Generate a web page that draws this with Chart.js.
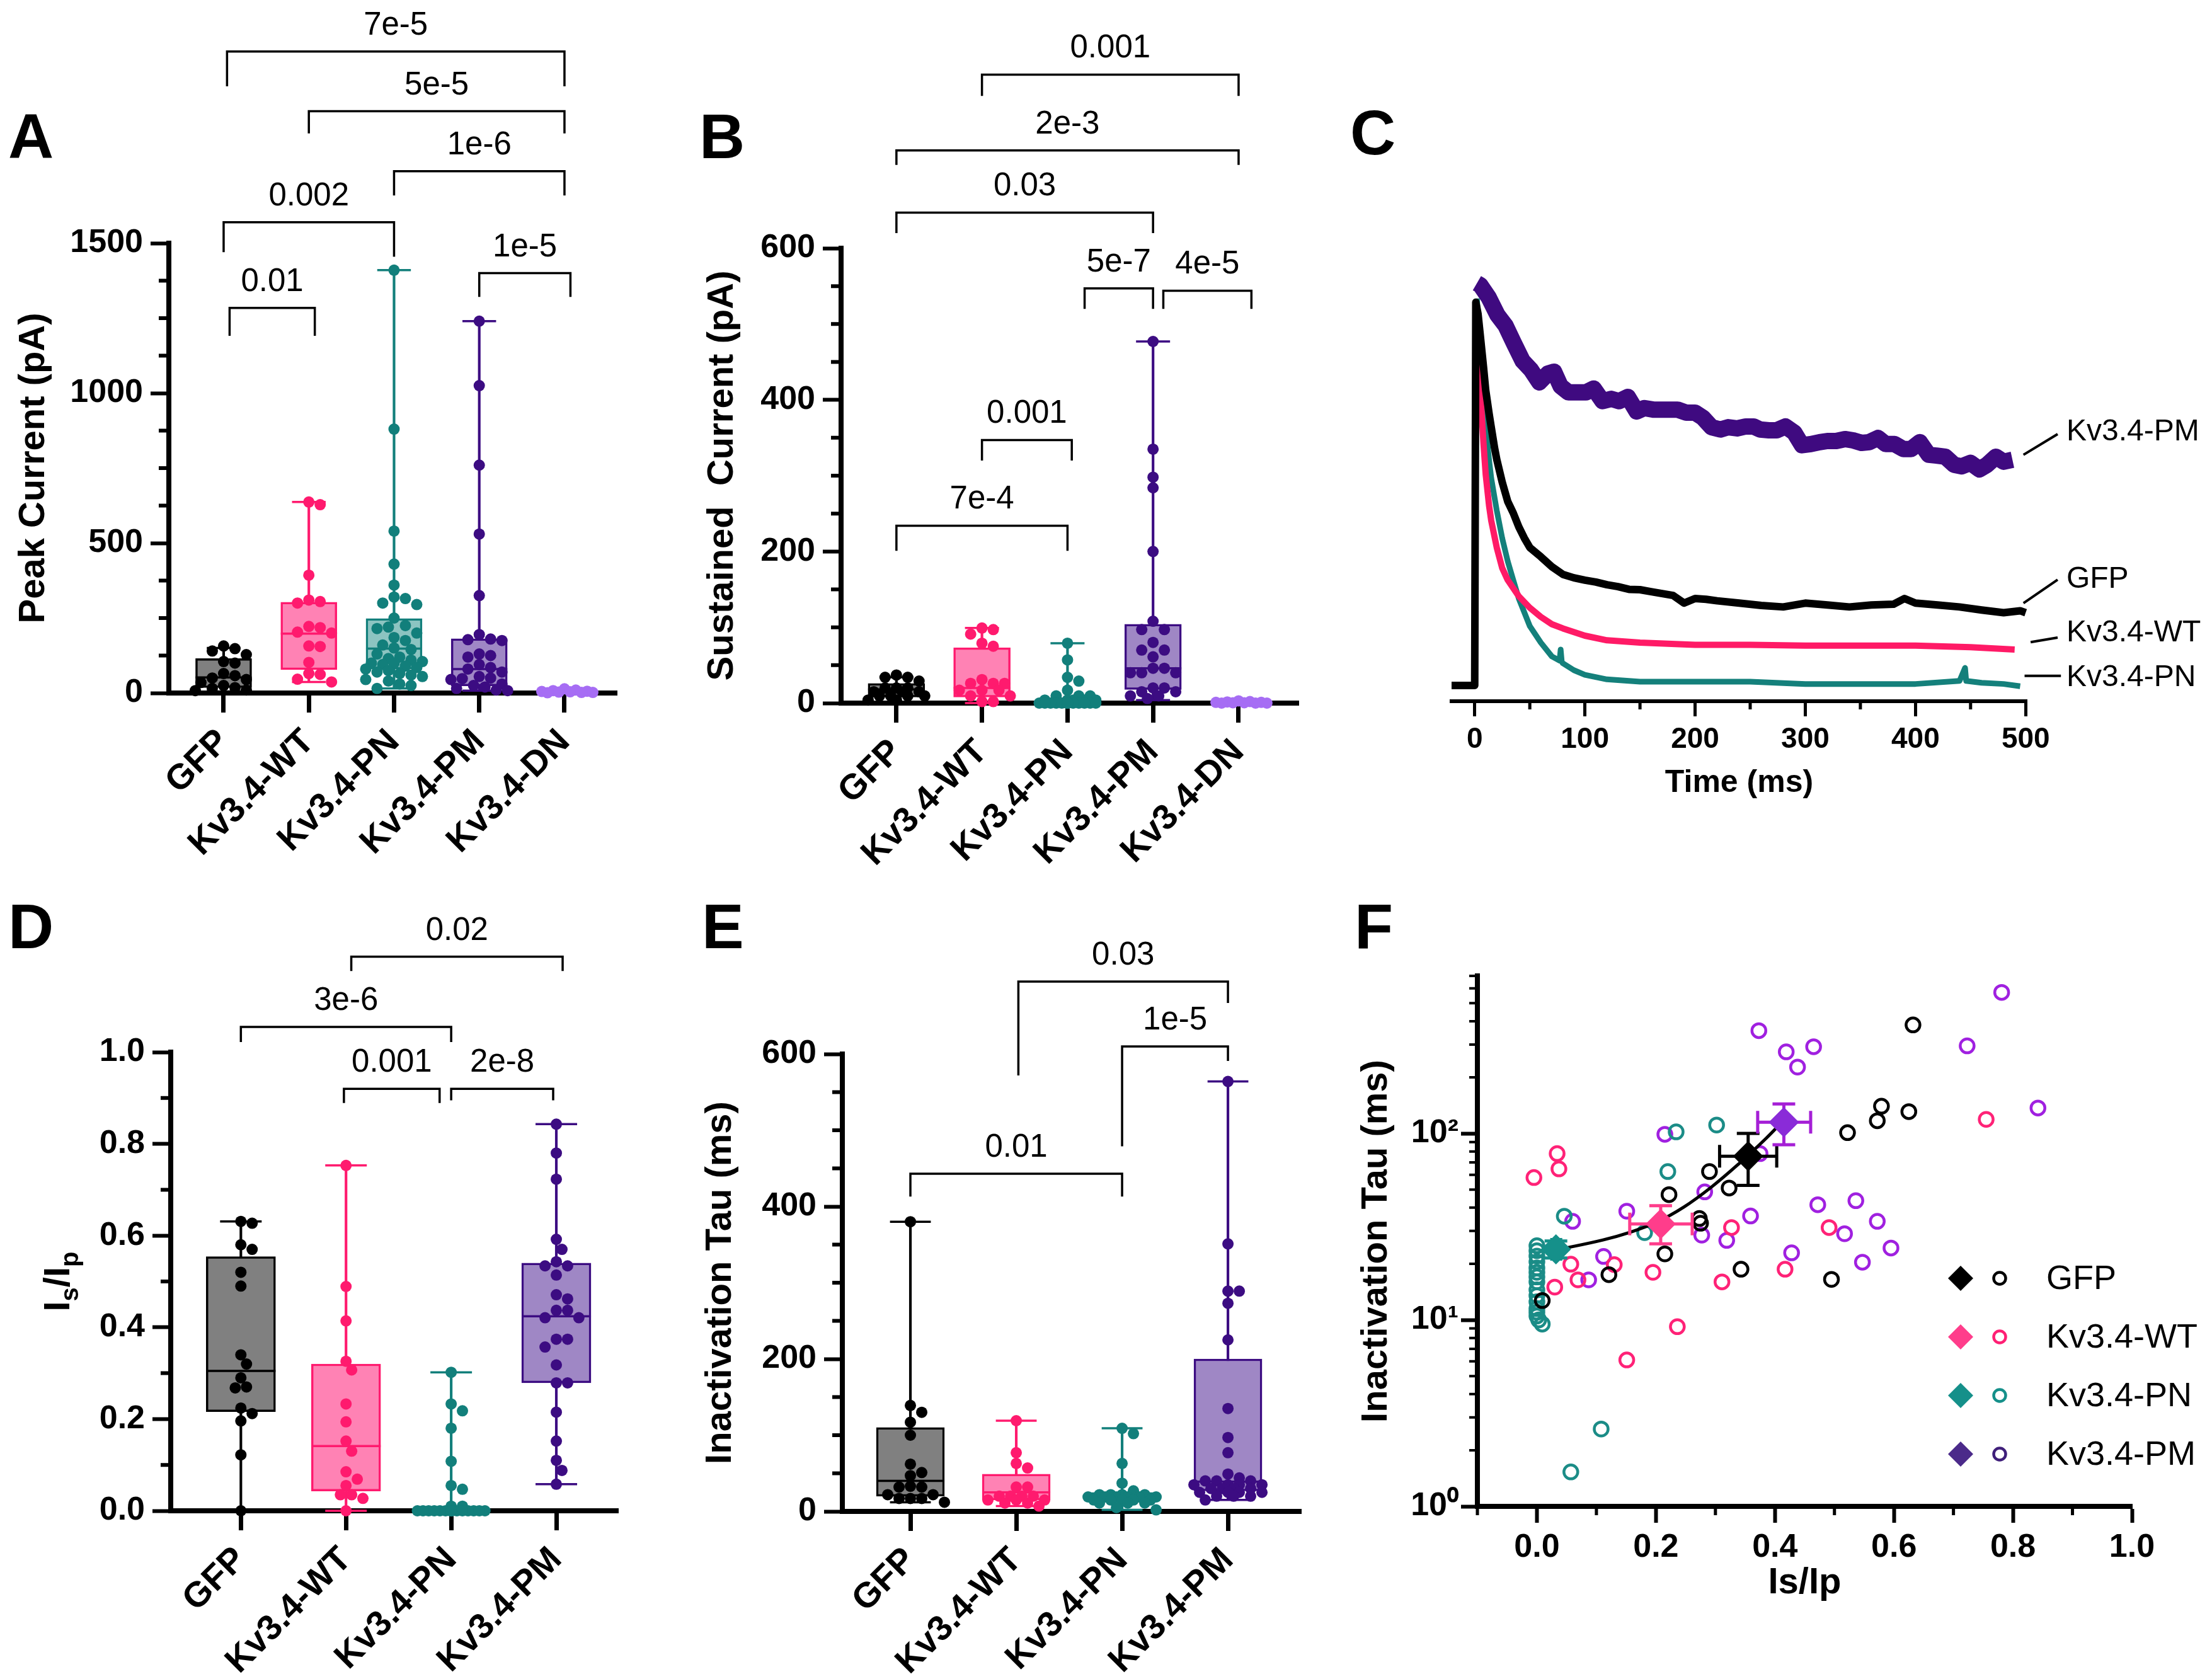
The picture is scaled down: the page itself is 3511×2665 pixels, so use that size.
<!DOCTYPE html>
<html>
<head>
<meta charset="utf-8">
<script src="https://cdn.jsdelivr.net/npm/chart.js@4.4.1/dist/chart.umd.min.js"></script>
<style>
  body { margin:0; background:#fff; width:3511px; height:2665px; position:relative; overflow:hidden; }
  canvas { position:absolute; }
  .tag { position:absolute; font:bold 100px 'Liberation Sans', Arial, sans-serif; line-height:100px; color:#000; }
</style>
</head>
<body>
<div class="tag" style="left:13px;top:166px">A</div>
<div class="tag" style="left:1110px;top:166px">B</div>
<div class="tag" style="left:2143px;top:160px">C</div>
<div class="tag" style="left:13px;top:1420px">D</div>
<div class="tag" style="left:1114px;top:1420px">E</div>
<div class="tag" style="left:2150px;top:1420px">F</div>
<canvas id="cA" width="1040" height="1380" style="left:0;top:0"></canvas>
<canvas id="cB" width="1100" height="1380" style="left:1040px;top:0"></canvas>
<canvas id="cC" width="1371" height="1230" style="left:2140px;top:150px"></canvas>
<canvas id="cD" width="1040" height="1265" style="left:0;top:1400px"></canvas>
<canvas id="cE" width="1100" height="1265" style="left:1040px;top:1400px"></canvas>
<canvas id="cF" width="1371" height="1265" style="left:2140px;top:1400px"></canvas>
<script>
const FONT = "'Liberation Sans', Arial, sans-serif";
Chart.defaults.font.family = FONT;
Chart.defaults.color = '#000';

const groups = ['GFP', 'Kv3.4-WT', 'Kv3.4-PN', 'Kv3.4-PM', 'Kv3.4-DN'];
const dotCol = ['#000000', '#ff1a6e', '#127f7b', '#3c0c82', '#a66df4'];
const boxFill = ['#808080', '#ff82b4', '#8cc4c1', '#9f87c5'];

// A - peak current (pA), one array per group
const peakPts = [
  [157,148,140,128,105,100,65,58,50,45,35,25,18,15,10,8],
  [637,628,393,310,305,300,222,218,203,200,157,155,102,65,62,46,37],
  [1410,880,540,430,360,320,315,300,295,250,225,220,215,200,185,175,160,150,145,130,120,115,110,105,100,100,95,90,85,80,75,70,65,60,55,45,40,30,25,15],
  [1240,1025,760,530,325,195,180,178,175,130,125,120,95,85,80,70,55,50,48,45,30,25,20,15,10,8],
  [14,10,8,6,5,4,3,2,2,1]
];
// [min, q1, median, q3, max]
const peakBox = [[5,18,52,115,150],[37,78,198,303,637],[15,80,148,248,1410],[8,24,80,181,1240],null];
const peakLabels = [0, 500, 1000, 1500];
const peakSig = [
  {a:0.04, b:4, y:2139, la:2023, lb:2023, t:'7e-5'},
  {a:1, b:4, y:1940, la:1866, lb:1866, t:'5e-5'},
  {a:2, b:4, y:1740, la:1659, lb:1659, t:'1e-6'},
  {a:0, b:2, y:1570, la:1470, lb:1455, t:'0.002'},
  {a:0.07, b:1.07, y:1284, la:1191, lb:1191, t:'0.01'},
  {a:3, b:4.07, y:1400, la:1321, lb:1321, t:'1e-5'}
];

// B - sustained current (pA)
const sustPts = [
  [34,34,37,29,20,20,20,15,15,15,9.5,9.5,9.5,9.5,4,4],
  [99,97,91,79,75,31,26,26,26,17,17,17,9.5,9.5,2,2],
  [79,57,34,29,17,9.5,9.5,9.5,4,4,4,4,4,0,0,0,0,0,0,0,0,0,0,0,0,0,0,0,0,0],
  [477,335,298,284,200,108,97,97,80,70,70,61,46,46,40,40,40,20,20,15,15,9.5,9.5,6],
  [3,2,1.5,1,1,0.5,0.5,0,0,0]
];
const sustBox = [[0,8,18,26,34],[0,8,20,73,99],[0,0,0,2,79],[4,18,46,104,477],null];
const sustLabels = [0, 200, 400, 600];
const sustSig = [
  {a:1, b:4, y:829, la:801, lb:801, t:'0.001'},
  {a:0, b:4, y:729, la:710, lb:710, t:'2e-3'},
  {a:0, b:3, y:647, la:620, lb:620, t:'0.03'},
  {a:2.2, b:3, y:547, la:520, lb:520, t:'5e-7'},
  {a:3.12, b:4.15, y:544, la:520, lb:520, t:'4e-5'},
  {a:1, b:2.05, y:347, la:320, lb:320, t:'0.001'},
  {a:0, b:2, y:234, la:201, lb:201, t:'7e-4'}
];

// D - Is/Ip
const ratioPts = [
  [0.631,0.627,0.58,0.57,0.52,0.49,0.34,0.32,0.29,0.27,0.268,0.224,0.212,0.196,0.122,0],
  [0.753,0.489,0.414,0.326,0.307,0.233,0.194,0.152,0.13,0.085,0.069,0.055,0.035,0.035,0.027,0],
  [0.302,0.233,0.218,0.18,0.108,0.055,0.047,0.01,0.01,0,0,0,0,0,0,0,0,0,0,0,0,0,0,0,0,0,0,0,0],
  [0.843,0.78,0.723,0.592,0.57,0.543,0.534,0.534,0.514,0.471,0.462,0.437,0.437,0.421,0.421,0.374,0.374,0.357,0.318,0.279,0.279,0.215,0.152,0.11,0.088,0.058]
];
const ratioBox = [[0,0.216,0.305,0.554,0.631],[0,0.043,0.141,0.32,0.753],[0,0,0,0,0.302],[0.058,0.279,0.424,0.54,0.843]];
const ratioLabels = [0, 0.2, 0.4, 0.6, 0.8, 1.0];
const ratioSig = [
  {a:1.05, b:3.06, y:1.208, la:1.177, lb:1.177, t:'0.02'},
  {a:0, b:2, y:1.055, la:1.022, lb:1.022, t:'3e-6'},
  {a:0.98, b:1.89, y:0.92, la:0.889, lb:0.889, t:'0.001'},
  {a:2, b:2.97, y:0.92, la:0.895, lb:0.895, t:'2e-8'}
];

// E - inactivation tau (ms)
const tauPts = [
  [380,139,130,117,100,62,51,47,33,32,32,22,22,17,17,17,12],
  [119,77,63,57,32,32,20,20,20,20,15,15,15,11,11,7],
  [109,102,63,37,27,22,22,22,22,19,19,19,19,19,19,15,15,15,15,15,11,11,11,5,2],
  [564,351,289,289,273,225,135,97,77,49,44,40,40,40,35,35,35,35,30,30,30,30,25,25,25,25,20,20,20,15]
];
const tauBox = [[12,20,40,110,380],[7,15,25,49,119],[2,13,18,25,109],[15,27,39,200,564]];
const tauLabels = [0, 200, 400, 600];
const tauSig = [
  {a:1.02, b:3, y:695, la:572, lb:667, t:'0.03'},
  {a:2, b:3, y:610, la:479, lb:591, t:'1e-5'},
  {a:0, b:2, y:443, la:413, lb:413, t:'0.01'}
];

// C - normalised current traces, [time ms, I/Ipeak]
const traceGFP = [[-21,0],[0,0],[1,1.0],[3,0.97],[5,0.915],[8,0.83],[10,0.77],[13,0.71],[15,0.674],[18,0.62],[20,0.59],[25,0.53],[30,0.48],[35,0.45],[40,0.414],[45,0.385],[50,0.36],[60,0.336],[70,0.31],[80,0.29],[90,0.281],[100,0.275],[110,0.27],[120,0.263],[130,0.258],[140,0.251],[150,0.25],[160,0.245],[170,0.24],[180,0.235],[190,0.215],[200,0.227],[210,0.225],[220,0.221],[240,0.215],[260,0.209],[280,0.205],[300,0.215],[320,0.21],[340,0.205],[360,0.21],[380,0.212],[390,0.227],[400,0.215],[420,0.21],[440,0.205],[460,0.197],[480,0.19],[495,0.195],[500,0.19]];
const traceWT = [[1,0.976],[3,0.88],[5,0.77],[8,0.63],[10,0.55],[13,0.47],[15,0.43],[20,0.36],[25,0.306],[30,0.275],[40,0.233],[50,0.203],[60,0.179],[70,0.16],[80,0.149],[100,0.13],[120,0.118],[150,0.112],[200,0.106],[250,0.106],[300,0.104],[350,0.104],[400,0.104],[450,0.1],[490,0.094]];
const tracePN = [[2,1.01],[5,0.867],[8,0.74],[10,0.674],[13,0.59],[15,0.541],[20,0.457],[25,0.384],[30,0.324],[35,0.275],[40,0.227],[50,0.155],[60,0.112],[70,0.076],[77,0.065],[78,0.094],[79,0.062],[80,0.058],[90,0.04],[100,0.028],[120,0.016],[150,0.01],[200,0.01],[250,0.01],[300,0.004],[350,0.004],[400,0.004],[440,0.012],[445,0.046],[446,0.012],[460,0.007],[480,0.004],[495,-0.002]];
const tracePM = [[2,1.05],[5,1.045],[12.6,1.013],[20.6,0.967],[28,0.939],[35.6,0.893],[43.5,0.847],[51,0.824],[58.6,0.791],[66.4,0.814],[72,0.819],[78,0.781],[85,0.765],[93,0.765],[101,0.765],[108,0.775],[116,0.742],[124,0.748],[131,0.742],[139,0.753],[147,0.715],[154,0.724],[162,0.72],[170,0.72],[177,0.72],[184,0.72],[192,0.712],[200,0.712],[207,0.699],[215,0.674],[223,0.668],[230,0.674],[238,0.671],[246,0.676],[253,0.676],[259,0.668],[267,0.666],[274,0.666],[282,0.676],[290,0.66],[297,0.627],[305,0.63],[313,0.635],[320,0.638],[328,0.638],[336,0.643],[343,0.64],[351,0.633],[358,0.635],[366,0.646],[373,0.63],[381,0.63],[389,0.617],[396,0.617],[404,0.635],[412,0.602],[419,0.6],[427,0.597],[435,0.576],[442,0.572],[450,0.581],[458,0.564],[465,0.576],[473,0.597],[480,0.584],[488,0.589]];
const timeLabels = [0, 100, 200, 300, 400, 500];

// F - tau vs Is/Ip, [Is/Ip, tau ms]
const scGFP = [[0.632,382],[0.579,140],[0.572,117],[0.625,131],[0.522,101],[0.29,62.5],[0.323,51],[0.222,47],[0.273,35],[0.275,33],[0.215,22.6],[0.121,17.5],[0.343,18.7],[0.495,16.5],[0.009,12.7]];
const scWT = [[-0.005,58],[0.034,78],[0.037,64.6],[0.057,19.9],[0.03,15],[0.069,16.4],[0.13,19.8],[0.195,18],[0.151,6.1],[0.236,9.2],[0.327,31.3],[0.311,16],[0.417,18.7],[0.491,31.3],[0.755,119]];
const scPN = [[0,25],[0,23.5],[0,22],[0,20.5],[0,19],[0,18],[0,17],[0,16],[0,14.5],[0,13.5],[0,12.5],[0,11.5],[0,11],[0,10.5],[0.003,10],[0.009,9.5],[0.046,36],[0.181,29.4],[0.22,62.5],[0.234,102],[0.302,111],[0.108,2.6],[0.057,1.53]];
const scPM = [[0.781,571],[0.373,356],[0.419,274],[0.465,292],[0.438,227],[0.723,295],[0.842,137],[0.215,99],[0.375,78],[0.282,48.6],[0.151,38.3],[0.359,36.1],[0.277,28.5],[0.319,26.7],[0.06,33.8],[0.112,21.9],[0.087,16.4],[0.428,22.9],[0.472,41.5],[0.536,43.6],[0.517,29],[0.572,33.8],[0.595,24.3],[0.547,20.4]];
const meanX = [0.355, 0.208, 0.032, 0.415];
const meanY = [75.5, 32.7, 23.9, 115];
const meanXerr = [[0.307,0.403],[0.156,0.261],[0.025,0.04],[0.371,0.46]];
const meanYerr = [[52.7,100],[25.6,41],[21.5,26.5],[87,144]];
const fitX = [0.037,0.110,0.156,0.201,0.247,0.293,0.339,0.385,0.414];
const fitY = [23.9,26.8,29.5,33.4,40.3,51.5,68.6,94,117];
const ratioAxisLabels = [0, 0.2, 0.4, 0.6, 0.8, 1.0];
const tauDecades = [1, 10, 100];

// spread dots sideways so they do not sit on top of each other
function swarm(vals, cx, o) {
  const placed = [], out = [], d = 2 * o.r;
  [...vals].sort((a, b) => b - a).forEach(v => {
    const py = v * o.pxY;
    let best = 0, bestD = -1, done = false;
    for (let k = 0; k * o.r <= o.spread && !done; k++) {
      for (const s of (k ? [1, -1] : [1])) {
        const off = s * k * o.r;
        let m = Infinity;
        placed.forEach(p => { m = Math.min(m, Math.hypot(p[0] - off, p[1] - py)); });
        if (m >= d * 0.9) { best = off; done = true; break; }
        if (m > bestD) { bestD = m; best = off; }
      }
    }
    placed.push([best, py]);
    out.push({x: cx + best / o.pxX, y: v});
  });
  return out;
}

function steps(lo, hi, st) {
  const t = [];
  for (let i = 0; lo + i * st <= hi + 1e-9; i++) t.push(+(lo + i * st).toFixed(6));
  return t;
}

// short unlabelled ticks between the labelled ones
function minorTicks(axis, values, len, width) {
  return {id:'minor' + axis, afterDraw(chart) {
    const s = chart.scales[axis], {ctx, chartArea} = chart;
    ctx.save(); ctx.strokeStyle = '#000'; ctx.lineWidth = width; ctx.beginPath();
    values.forEach(v => {
      const p = s.getPixelForValue(v);
      if (s.isHorizontal()) { ctx.moveTo(p, chartArea.bottom); ctx.lineTo(p, chartArea.bottom + len); }
      else { ctx.moveTo(chartArea.left, p); ctx.lineTo(chartArea.left - len, p); }
    });
    ctx.stroke(); ctx.restore();
  }};
}

function sigPlugin(items) {
  return {id: 'sig', afterDraw(chart) {
    const {ctx, scales: {x, y}} = chart;
    ctx.save();
    ctx.lineWidth = 3.5; ctx.strokeStyle = '#000'; ctx.fillStyle = '#000';
    ctx.font = '51px ' + FONT; ctx.textAlign = 'center'; ctx.textBaseline = 'alphabetic';
    items.forEach(s => {
      const x1 = x.getPixelForValue(s.a), x2 = x.getPixelForValue(s.b), yl = y.getPixelForValue(s.y);
      ctx.beginPath();
      ctx.moveTo(x1, y.getPixelForValue(s.la)); ctx.lineTo(x1, yl);
      ctx.lineTo(x2, yl); ctx.lineTo(x2, y.getPixelForValue(s.lb));
      ctx.stroke();
      ctx.fillText(s.t, (x1 + x2) / 2, yl - 27);
    });
    ctx.restore();
  }};
}

function boxChart(o) {
  const ds = [];
  o.pts.forEach((vals, i) => {
    const b = o.box[i], c = dotCol[i];
    if (b) {
      ds.push({type:'bar', data:[{x:i, y:[b[0], b[4]]}], backgroundColor:c, borderWidth:0, barThickness:3.5, grouped:false, order:4});
      ds.push({type:'bar', data:[{x:i, y:[b[1], b[3]]}], backgroundColor:boxFill[i], borderColor:c, borderWidth:3.5, borderSkipped:false, barThickness:o.bw, grouped:false, order:3});
      ds.push({data:[{x:i, y:b[2]}], pointStyle:'line', pointRadius:o.bw / 2, pointBorderColor:c, pointBorderWidth:3.5, order:2, clip:false});
      ds.push({data:[{x:i, y:b[0]}, {x:i, y:b[4]}], pointStyle:'line', pointRadius:o.bw * 0.3, pointBorderColor:c, pointBorderWidth:3.5, order:2, clip:false});
    }
    ds.push({data:swarm(vals, i, o), pointStyle:'circle', pointRadius:o.r, pointBackgroundColor:c, pointBorderWidth:0, order:1, clip:false});
  });
  const axisLine = {display:true, width:8, color:'#000'};
  const minor = steps(0, o.ymax, o.step).filter(v => !o.labels.includes(v));
  new Chart(document.getElementById(o.id), {
    type: 'scatter',
    data: {datasets: ds},
    options: {
      responsive:false, animation:false, events:[],
      layout: {padding: o.pad},
      plugins: {legend:{display:false}, tooltip:{enabled:false}},
      scales: {
        x: {
          type:'linear', min:o.xmin, max:o.xmax, offset:false,
          afterBuildTicks: s => { s.ticks = o.pts.map((p, i) => ({value:i})); },
          afterFit: s => { s.height = o.xh; },
          ticks: {callback:(v, i) => groups[i], autoSkip:false, minRotation:45, maxRotation:45, padding:14, font:{size:56, weight:'bold'}},
          grid: {offset:false, drawOnChartArea:false, tickLength:31, tickWidth:7, tickColor:'#000'},
          border: axisLine
        },
        y: {
          min:0, max:o.ymax,
          afterBuildTicks: s => { s.ticks = o.labels.map(v => ({value:v})); },
          afterFit: s => { s.width = o.yw; },
          ticks: {callback: v => o.fmt ? o.fmt(v) : String(v), autoSkip:false, padding:12, font:{size:52, weight:'bold'}},
          grid: {drawOnChartArea:false, tickLength:29, tickWidth:6, tickColor:'#000'},
          border: axisLine,
          title: {display:!!o.ytitle, text:o.ytitle, font:{size:58, weight:'bold'}, padding:{top:o.tpad, bottom:0}}
        }
      }
    },
    plugins: [minorTicks('y', minor, 16, 6), sigPlugin(o.sig)].concat(o.extra || [])
  });
}

boxChart({id:'cA', pts:peakPts, box:peakBox, sig:peakSig, labels:peakLabels, ymax:1500, step:125,
  xmin:-0.643, xmax:4.614, pad:{top:386, right:61, bottom:0, left:0}, yw:268, xh:280,
  ytitle:'Peak Current (pA)', tpad:19, bw:89, r:9, pxX:135.25, pxY:714 / 1500, spread:46});

boxChart({id:'cB', pts:sustPts, box:sustBox, sig:sustSig, labels:sustLabels, ymax:600, step:50,
  xmin:-0.647, xmax:4.70, pad:{top:394, right:79, bottom:0, left:0}, yw:295, xh:264,
  ytitle:'Sustained  Current (pA)', tpad:72, bw:90, r:9, pxX:136, pxY:722 / 600, spread:46});

const isIpTitle = {id:'isip', afterDraw(chart) {
  const {ctx, chartArea} = chart;
  ctx.save();
  ctx.translate(89, (chartArea.top + chartArea.bottom) / 2);
  ctx.rotate(-Math.PI / 2);
  const big = 'bold 58px ' + FONT, small = 'bold 40px ' + FONT;
  const parts = [['I', big, 0], ['s', small, 14], ['/I', big, 0], ['p', small, 14]];
  let w = 0;
  parts.forEach(p => { ctx.font = p[1]; w += ctx.measureText(p[0]).width; });
  let x = -w / 2;
  ctx.fillStyle = '#000'; ctx.textBaseline = 'alphabetic'; ctx.textAlign = 'left';
  parts.forEach(p => { ctx.font = p[1]; ctx.fillText(p[0], x, 21 + p[2]); x += ctx.measureText(p[0]).width; });
  ctx.restore();
}};

boxChart({id:'cD', pts:ratioPts, box:ratioBox, sig:ratioSig, labels:ratioLabels, ymax:1.0, step:0.1, fmt:v => v.toFixed(1),
  xmin:-0.667, xmax:3.59, pad:{top:270, right:55, bottom:0, left:0}, yw:271, xh:267,
  ytitle:'', tpad:0, bw:110, r:9, pxX:168, pxY:728, spread:56, extra:[isIpTitle]});

boxChart({id:'cE', pts:tauPts, box:tauBox, sig:tauSig, labels:tauLabels, ymax:600, step:50,
  xmin:-0.643, xmax:3.69, pad:{top:273, right:75, bottom:0, left:0}, yw:297, xh:266,
  ytitle:'Inactivation Tau (ms)', tpad:69, bw:108, r:9, pxX:168, pxY:726 / 600, spread:56});

// C - traces
const traceLabels = [
  {t:'Kv3.4-PM', tx:537, ty:0.661, x1:498, y1:0.602, x2:529, y2:0.656},
  {t:'GFP', tx:537, ty:0.276, x1:498, y1:0.215, x2:529, y2:0.276},
  {t:'Kv3.4-WT', tx:537, ty:0.137, x1:504.5, y1:0.113, x2:529, y2:0.125},
  {t:'Kv3.4-PN', tx:537, ty:0.02, x1:499, y1:0.025, x2:532, y2:0.025}
];
const traceTags = {id:'tags', afterDraw(chart) {
  const {ctx, scales:{x, y}} = chart;
  ctx.save();
  ctx.strokeStyle = '#000'; ctx.lineWidth = 4; ctx.fillStyle = '#000';
  ctx.font = '48px ' + FONT; ctx.textAlign = 'left'; ctx.textBaseline = 'middle';
  traceLabels.forEach(l => {
    ctx.beginPath();
    ctx.moveTo(x.getPixelForValue(l.x1), y.getPixelForValue(l.y1));
    ctx.lineTo(x.getPixelForValue(l.x2), y.getPixelForValue(l.y2));
    ctx.stroke();
    ctx.fillText(l.t, x.getPixelForValue(l.tx), y.getPixelForValue(l.ty));
  });
  ctx.restore();
}};
const trace = (arr, col, w, ord) => ({data:arr.map(p => ({x:p[0], y:p[1]})), borderColor:col, borderWidth:w, pointRadius:0, tension:0, borderJoinStyle:'round', order:ord});
new Chart(document.getElementById('cC'), {
  type:'line',
  data:{datasets:[
    trace(tracePN, '#14807b', 9, 3),
    trace(traceWT, '#ff1a66', 10, 2),
    trace(tracePM, '#3f0a80', 26, 1),
    trace(traceGFP, '#000000', 12, 0)
  ]},
  options:{
    responsive:false, animation:false, events:[],
    layout:{padding:{top:269, right:294, bottom:0, left:164}},
    plugins:{legend:{display:false}, tooltip:{enabled:false}},
    scales:{
      x:{
        type:'linear', min:-21, max:501,
        afterBuildTicks: s => { s.ticks = timeLabels.map(v => ({value:v})); },
        afterFit: s => { s.height = 267; },
        ticks:{callback: v => String(v), autoSkip:false, maxRotation:0, padding:10, font:{size:46, weight:'bold'}},
        grid:{drawOnChartArea:false, tickLength:24, tickWidth:5, tickColor:'#000'},
        border:{display:true, width:6, color:'#000'},
        title:{display:true, text:'Time (ms)', font:{size:50, weight:'bold'}, padding:{top:0, bottom:107}}
      },
      y:{display:false, min:-0.041, max:1.1}
    }
  },
  plugins:[minorTicks('x', steps(50, 450, 100), 13, 5), traceTags]
});

// F - scatter with means
const fDot = ['#000000', '#ff2277', '#1b8c87', '#a020e0'];
const fMeanCol = ['#000000', '#ff3d8b', '#15908a', '#8a2bd8'];
const fBarCol = ['#000000', '#ff3d8b', '#15908a', '#a51fd6'];
const legNames = ['GFP', 'Kv3.4-WT', 'Kv3.4-PN', 'Kv3.4-PM'];
const legCol = [['#000000', '#000000'], ['#ff3d8b', '#ff1f74'], ['#15908a', '#15908a'], ['#4b2a8a', '#3f1f7a']];

const fSets = [scGFP, scWT, scPN, scPM].map((arr, i) => ({
  data: arr.map(p => ({x:p[0], y:p[1]})), pointStyle:'circle', pointRadius:11, pointBorderWidth:4.5,
  pointBorderColor:fDot[i], pointBackgroundColor:'rgba(0,0,0,0)', order:2, clip:false
}));
fSets.push({type:'line', data:fitX.map((x, i) => ({x, y:fitY[i]})), borderColor:'#000', borderWidth:5, pointRadius:0, tension:0.4, order:1});
fSets.push({data:meanX.map((x, i) => ({x, y:meanY[i]})), pointStyle:'rectRot', pointRadius:24, pointBackgroundColor:fMeanCol, pointBorderWidth:0, order:0, clip:false});
const meanIdx = fSets.length - 1;

const errBars = {id:'err', beforeDatasetDraw(chart, args) {
  if (args.index !== meanIdx) return;
  const {ctx, scales:{x, y}} = chart;
  ctx.save(); ctx.lineWidth = 5;
  meanX.forEach((mx, i) => {
    const px = x.getPixelForValue(mx), py = y.getPixelForValue(meanY[i]);
    const y1 = y.getPixelForValue(meanYerr[i][0]), y2 = y.getPixelForValue(meanYerr[i][1]);
    const x1 = x.getPixelForValue(meanXerr[i][0]), x2 = x.getPixelForValue(meanXerr[i][1]);
    ctx.strokeStyle = fBarCol[i];
    ctx.beginPath();
    ctx.moveTo(px, y1); ctx.lineTo(px, y2);
    ctx.moveTo(px - 18, y1); ctx.lineTo(px + 18, y1);
    ctx.moveTo(px - 18, y2); ctx.lineTo(px + 18, y2);
    ctx.moveTo(x1, py); ctx.lineTo(x2, py);
    ctx.moveTo(x1, py - 18); ctx.lineTo(x1, py + 18);
    ctx.moveTo(x2, py - 18); ctx.lineTo(x2, py + 18);
    ctx.stroke();
  });
  ctx.restore();
}};

const fLegend = {id:'flegend', afterDraw(chart) {
  const {ctx} = chart;
  ctx.save();
  ctx.font = '54px ' + FONT; ctx.textBaseline = 'middle'; ctx.textAlign = 'left';
  legNames.forEach((n, i) => {
    const cy = 629 + i * 93;
    ctx.fillStyle = legCol[i][0];
    ctx.beginPath();
    ctx.moveTo(972, cy - 20); ctx.lineTo(992, cy); ctx.lineTo(972, cy + 20); ctx.lineTo(952, cy);
    ctx.closePath(); ctx.fill();
    ctx.strokeStyle = legCol[i][1]; ctx.lineWidth = 4.5;
    ctx.beginPath(); ctx.arc(1034, cy, 9.5, 0, Math.PI * 2); ctx.stroke();
    ctx.fillStyle = '#000';
    ctx.fillText(n, 1108, cy + 2);
  });
  ctx.restore();
}};

const sup = {1:'10\u2070', 10:'10\u00b9', 100:'10\u00b2'};
const tauMinor = [];
tauDecades.forEach(d => { for (let k = 2; k <= 9; k++) if (k * d <= 700) tauMinor.push(k * d); });
new Chart(document.getElementById('cF'), {
  type:'scatter',
  data:{datasets:fSets},
  options:{
    responsive:false, animation:false, events:[],
    layout:{padding:{top:149, right:127, bottom:0, left:0}},
    plugins:{legend:{display:false}, tooltip:{enabled:false}},
    scales:{
      x:{
        type:'linear', min:-0.1, max:1.0,
        afterBuildTicks: s => { s.ticks = ratioAxisLabels.map(v => ({value:v})); },
        afterFit: s => { s.height = 274; },
        ticks:{callback: v => v.toFixed(1), autoSkip:false, maxRotation:0, padding:8, font:{size:52, weight:'bold'}},
        grid:{drawOnChartArea:false, tickLength:26, tickWidth:6, tickColor:'#000'},
        border:{display:true, width:8, color:'#000'},
        title:{display:true, text:'Is/Ip', font:{size:58, weight:'bold'}, padding:{top:0, bottom:117}}
      },
      y:{
        type:'logarithmic', min:1, max:700,
        afterBuildTicks: s => { s.ticks = tauDecades.map(v => ({value:v})); },
        afterFit: s => { s.width = 205; },
        ticks:{callback: v => sup[v] || '', autoSkip:false, padding:4, font:{size:52, weight:'bold'}},
        grid:{drawOnChartArea:false, tickLength:26, tickWidth:6, tickColor:'#000'},
        border:{display:true, width:8, color:'#000'},
        title:{display:true, text:'Inactivation Tau (ms)', font:{size:58, weight:'bold'}, padding:{top:10, bottom:0}}
      }
    }
  },
  plugins:[errBars, fLegend, minorTicks('x', steps(-0.1, 0.9, 0.2), 14, 5), minorTicks('y', tauMinor, 13, 4)]
});
</script>
</body>
</html>
